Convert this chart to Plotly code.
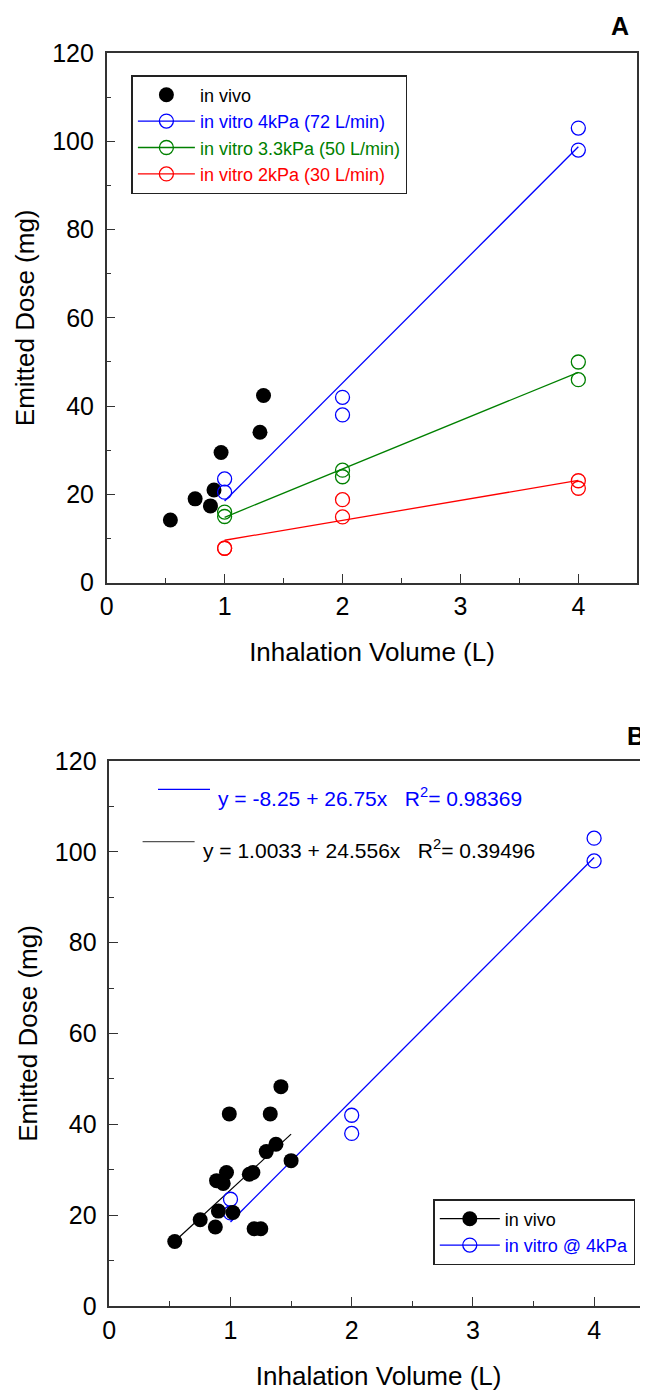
import numpy as np
import plotly.graph_objects as go

# ---------------- data ----------------
# Panel A
vivo_a_x = [0.54, 0.75, 0.88, 0.91, 0.97, 1.30, 1.33]
vivo_a_y = [14.2, 19.0, 17.4, 21.0, 29.5, 34.1, 42.4]
vitro_x = [1, 1, 2, 2, 4, 4]
vitro_4kpa_y = [23.5, 20.5, 42.0, 38.0, 103.0, 98.0]
vitro_33kpa_y = [16.0, 15.0, 25.5, 24.0, 50.0, 46.0]
vitro_2kpa_y = [7.8, 7.8, 18.8, 14.9, 23.1, 21.4]

# Panel B
vivo_b_x = [0.54, 0.75, 0.875, 0.90, 0.885, 0.94, 0.967, 0.99, 1.02, 1.155,
            1.185, 1.195, 1.25, 1.295, 1.328, 1.375, 1.416, 1.50]
vivo_b_y = [14.2, 19.0, 17.4, 20.9, 27.6, 27.0, 29.4, 42.3, 20.6, 29.0,
            29.4, 17.0, 17.0, 34.0, 42.3, 35.6, 48.3, 32.0]
fit_vitro_b = [-8.25, 26.75]      # intercept, slope
fit_vitro_b_r2 = "0.98369"
fit_vivo_b = [1.0033, 24.556]
fit_vivo_b_r2 = "0.39496"

x_ticks = [0, 1, 2, 3, 4]
y_ticks = [0, 20, 40, 60, 80, 100, 120]

labels_a = ["in vivo", "in vitro 4kPa (72 L/min)", "in vitro 3.3kPa (50 L/min)",
            "in vitro 2kPa (30 L/min)"]
labels_b = ["in vivo", "in vitro @ 4kPa"]
x_title = "Inhalation Volume (L)"
y_title = "Emitted Dose (mg)"

# ---------------- style ----------------
WIN_W, WIN_H = 648, 1392
OFF = 8  # page body margin
W, H = WIN_W, WIN_H
FONT = "Liberation Sans, Arial, Helvetica, sans-serif"
BLUE, GREEN, RED, BLACK = "#0000ff", "#008000", "#ff0000", "#000000"
AXC = "#333333"
MS = 14

def px_x(p):
    return (p - OFF) / W

def px_y(p):
    return 1 - (p - OFF) / H

def colored(txt, c):
    return f'<span style="color:{c}">{txt}</span>'

fig = go.Figure()

# ---- Panel A ----
fig.add_trace(go.Scatter(x=vivo_a_x, y=vivo_a_y, mode="markers", name=labels_a[0],
                         marker=dict(color=BLACK, size=MS + 1), xaxis="x", yaxis="y",
                         legend="legend"))
for ys, col, lab in [(vitro_4kpa_y, BLUE, labels_a[1]),
                     (vitro_33kpa_y, GREEN, labels_a[2]),
                     (vitro_2kpa_y, RED, labels_a[3])]:
    slope, icpt = np.polyfit(vitro_x, ys, 1)
    xl = [min(vitro_x), max(vitro_x)]
    fig.add_trace(go.Scatter(x=xl, y=[icpt + slope * v for v in xl], mode="lines",
                             line=dict(color=col, width=1.3), showlegend=False,
                             xaxis="x", yaxis="y", hoverinfo="skip"))
    fig.add_trace(go.Scatter(x=vitro_x, y=ys, mode="markers", showlegend=False,
                             marker=dict(symbol="circle-open", color=col, size=MS,
                                         line=dict(width=1.3)),
                             xaxis="x", yaxis="y"))
    # legend entry (line + open circle)
    fig.add_trace(go.Scatter(x=[None], y=[None], mode="lines+markers",
                             name=colored(lab, col),
                             line=dict(color=col, width=1.3),
                             marker=dict(symbol="circle-open", color=col, size=MS,
                                         line=dict(width=1.3)),
                             xaxis="x", yaxis="y", legend="legend"))

# ---- Panel B ----
xl = [min(vivo_b_x), max(vivo_b_x)]
fig.add_trace(go.Scatter(x=xl, y=[fit_vivo_b[0] + fit_vivo_b[1] * v for v in xl],
                         mode="lines", line=dict(color=BLACK, width=1.2),
                         showlegend=False, xaxis="x2", yaxis="y2", hoverinfo="skip"))
xl2 = [min(vitro_x), max(vitro_x)]
fig.add_trace(go.Scatter(x=xl2, y=[fit_vitro_b[0] + fit_vitro_b[1] * v for v in xl2],
                         mode="lines", line=dict(color=BLUE, width=1.3),
                         showlegend=False, xaxis="x2", yaxis="y2", hoverinfo="skip"))
fig.add_trace(go.Scatter(x=vitro_x, y=vitro_4kpa_y, mode="markers", showlegend=False,
                         marker=dict(symbol="circle-open", color=BLUE, size=MS,
                                     line=dict(width=1.3)),
                         xaxis="x2", yaxis="y2"))
fig.add_trace(go.Scatter(x=vivo_b_x, y=vivo_b_y, mode="markers", showlegend=False,
                         marker=dict(color=BLACK, size=MS + 1), xaxis="x2", yaxis="y2"))
fig.add_trace(go.Scatter(x=[None], y=[None], mode="lines+markers", name=labels_b[0],
                         line=dict(color=BLACK, width=1.2),
                         marker=dict(color=BLACK, size=MS + 1),
                         xaxis="x2", yaxis="y2", legend="legend2"))
fig.add_trace(go.Scatter(x=[None], y=[None], mode="lines+markers",
                         name=colored(labels_b[1], BLUE),
                         line=dict(color=BLUE, width=1.3),
                         marker=dict(symbol="circle-open", color=BLUE, size=MS,
                                     line=dict(width=1.3)),
                         xaxis="x2", yaxis="y2", legend="legend2"))

# ---------------- axes ----------------
def xax(domain, rng, mirror, standoff):
    return dict(domain=domain, range=rng, tickmode="array", tickvals=x_ticks,
                ticks="inside", ticklen=9, tickwidth=1.3, tickcolor=AXC,
                minor=dict(ticks="inside", dtick=0.5, tick0=0, ticklen=5,
                           tickwidth=1.3, tickcolor=AXC, showgrid=False),
                showline=True, linecolor=AXC, linewidth=1.5, mirror=mirror,
                showgrid=False, zeroline=False, ticklabelstandoff=1,
                tickfont=dict(size=25, color=BLACK, family=FONT),
                title=dict(text=x_title, font=dict(size=26, color=BLACK, family=FONT),
                           standoff=standoff),
                automargin=False)

def yax(domain, anchor, mirror):
    return dict(domain=domain, range=[0, 120], tickmode="array", tickvals=y_ticks,
                anchor=anchor,
                ticks="inside", ticklen=9, tickwidth=1.3, tickcolor=AXC,
                minor=dict(ticks="inside", dtick=10, tick0=0, ticklen=5,
                           tickwidth=1.3, tickcolor=AXC, showgrid=False),
                showline=True, linecolor=AXC, linewidth=1.5, mirror=mirror,
                showgrid=False, zeroline=False, ticklabelstandoff=6,
                tickfont=dict(size=25, color=BLACK, family=FONT),
                title=dict(text=y_title, font=dict(size=26, color=BLACK, family=FONT),
                           standoff=10),
                automargin=False)

a_left, a_right, a_top, a_bot = 106.7, 637.3, 53.0, 582.7
b_left, b_top, b_bot = 109.3, 761.0, 1306.0
b_unit = 121.2

fig.update_layout(
    width=W, height=H,
    margin=dict(l=0, r=0, t=0, b=0),
    paper_bgcolor="white", plot_bgcolor="white",
    font=dict(family=FONT, color=BLACK),
    xaxis=dict(**xax([px_x(a_left), px_x(a_right)], [0, 4.5], True, 23), anchor="y"),
    yaxis=yax([px_y(a_bot), px_y(a_top)], "x", True),
    xaxis2=dict(**xax([px_x(b_left), px_x(WIN_W)], [0, (WIN_W - b_left) / b_unit],
                      True, 24), anchor="y2"),
    yaxis2=yax([px_y(b_bot), px_y(b_top)], "x2", False),
    legend=dict(x=px_x(131.4), y=px_y(75), xanchor="left", yanchor="top",
                bgcolor="white", bordercolor="#222222", borderwidth=1.5,
                font=dict(size=18, family=FONT, color=BLACK),
                itemwidth=57, tracegroupgap=0),
    legend2=dict(x=px_x(433.3), y=px_y(1199), xanchor="left", yanchor="top",
                 bgcolor="white", bordercolor="#222222", borderwidth=1.5,
                 font=dict(size=18, family=FONT, color=BLACK),
                 itemwidth=60, tracegroupgap=0),
    showlegend=True,
)

# panel letters
fig.add_annotation(text="<b>A</b>", x=px_x(620), y=px_y(26), xref="paper", yref="paper",
                   xanchor="center", yanchor="middle",
                   showarrow=False, font=dict(size=25, family=FONT, color=BLACK))
fig.add_annotation(text="<b>B</b>", x=px_x(635.5), y=px_y(735.5), xref="paper",
                   yref="paper", xanchor="center", yanchor="middle",
                   showarrow=False, font=dict(size=25, family=FONT, color=BLACK))

# regression equation keys in panel B
eq_rows = [
    (fit_vitro_b, fit_vitro_b_r2, BLUE, 158.0, 210.0, 789.3, 215.7, 797.0),
    (fit_vivo_b, fit_vivo_b_r2, BLACK, 142.6, 194.6, 841.7, 200.8, 848.5),
]
for (ic, sl), r2, col, x0, x1, yl, xt, yt in eq_rows:
    fig.add_shape(type="line", xref="paper", yref="paper",
                  x0=px_x(x0), x1=px_x(x1), y0=px_y(yl), y1=px_y(yl),
                  line=dict(color=col if col != BLACK else "#555555", width=1.2))
    txt = f"y = {ic:g} + {sl:g}x   R<sup>2</sup>= {r2}"
    fig.add_annotation(text=txt, x=px_x(xt), y=px_y(yt), xref="paper", yref="paper",
                       xanchor="left", yanchor="middle", showarrow=False,
                       font=dict(size=21, family=FONT, color=col))

fig.write_html("out.html")
